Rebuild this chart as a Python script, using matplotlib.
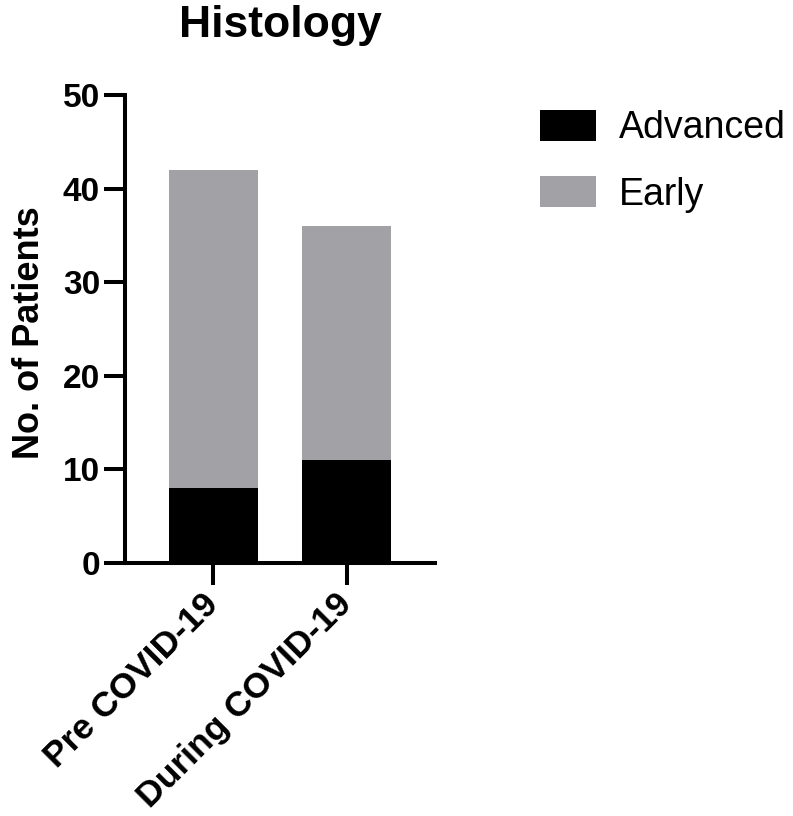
#!/usr/bin/env python3
# -*- coding: utf-8 -*-
"""
Histology stacked bar chart (pre vs during COVID-19)
"""

import matplotlib
matplotlib.use('Agg')
import matplotlib.pyplot as plt
import numpy as np

plt.rcParams['font.family'] = ['Liberation Sans', 'DejaVu Sans']

# Data
groups = ['Pre COVID-19', 'During COVID-19']
advanced = [8, 11]
early = [34, 25]
yticks = [0, 10, 20, 30, 40, 50]

adv_color = '#000000'
early_color = '#a2a1a6'

W, H = 793, 816
fig = plt.figure(figsize=(W / 100, H / 100), dpi=100)

# axes placed in pixel terms
ax_left, ax_right, ax_top, ax_bottom = 125, 435, 95, 563
ax = fig.add_axes([ax_left / W, 1 - ax_bottom / H,
                   (ax_right - ax_left) / W, (ax_bottom - ax_top) / H])

x = np.arange(len(groups))
bw = 0.665
ax.bar(x, advanced, width=bw, color=adv_color, label='Advanced', zorder=2)
ax.bar(x, early, width=bw, bottom=advanced, color=early_color,
       label='Early', zorder=2)

ax.set_xlim(-0.664, 1.664)
ax.set_ylim(0, 50)
ax.set_yticks(yticks)
ax.set_xticks(x)
ax.set_xticklabels(groups, rotation=45, ha='right', va='center',
                   rotation_mode='anchor', fontsize=25.5, fontweight='bold')
ax.set_yticklabels([str(v) for v in yticks], fontsize=24, fontweight='bold')

for side in ['top', 'right']:
    ax.spines[side].set_visible(False)
for side in ['left', 'bottom']:
    ax.spines[side].set_linewidth(2.9)
    ax.spines[side].set_zorder(3)
ax.tick_params(axis='y', length=15, width=2.9, pad=3)
ax.tick_params(axis='x', length=15.5, width=2.9, pad=10.5)

# Title and y label as figure text
fig.text(280 / W, 1 - 26 / H, 'Histology', fontsize=32, fontweight='bold',
         ha='center', va='center')
fig.text(30 / W, 1 - 333 / H, 'No. of Patients', fontsize=26,
         fontweight='bold', rotation=90, ha='center', va='center')

# Legend
fig.legend(loc='upper left', bbox_to_anchor=(540 / W, 1 - 110 / H),
           frameon=False, fontsize=27, handlelength=1.5, handleheight=0.88,
           handletextpad=0.6, labelspacing=0.8, borderpad=0,
           borderaxespad=0)

plt.savefig('out.png', dpi=100, facecolor='white')
